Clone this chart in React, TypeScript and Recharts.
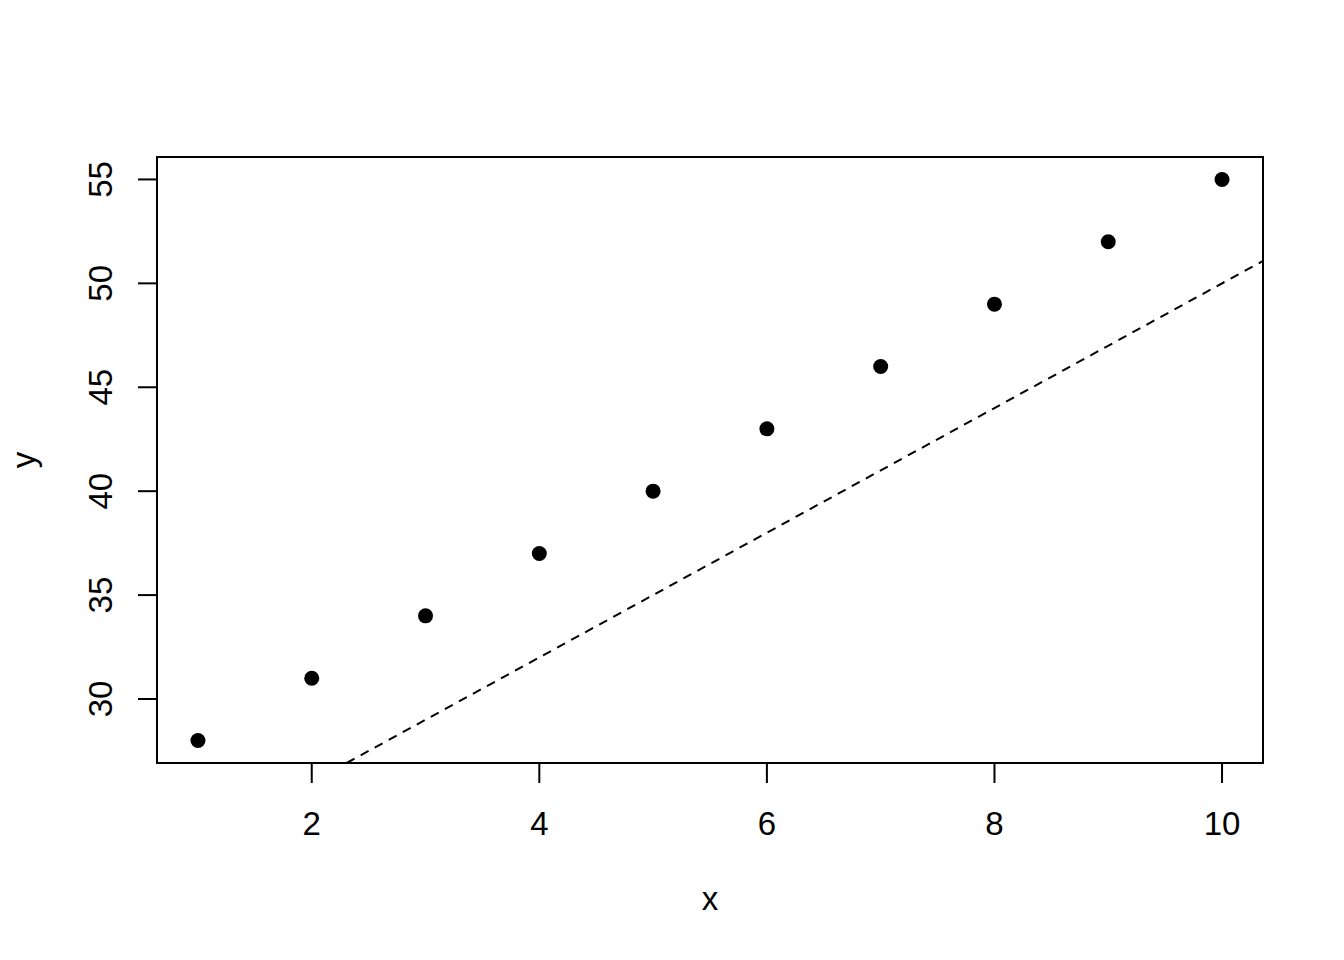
import {
  ComposedChart,
  ReferenceArea,
  ReferenceLine,
  Scatter,
  XAxis,
  YAxis,
} from 'recharts';

const xValues = [1, 2, 3, 4, 5, 6, 7, 8, 9, 10];
const yValues = [28, 31, 34, 37, 40, 43, 46, 49, 52, 55];

const xTicks = [2, 4, 6, 8, 10];
const yTicks = [30, 35, 40, 45, 50, 55];

// abline(a = 20, b = 3, lty = 2)
const lineIntercept = 20;
const lineSlope = 3;

// R pads the data range by 4% on each side
const pad = (lo: number, hi: number): [number, number] => {
  const d = (hi - lo) * 0.04;
  return [lo - d, hi + d];
};
const xDomain = pad(Math.min(...xValues), Math.max(...xValues));
const yDomain = pad(Math.min(...yValues), Math.max(...yValues));

const points = xValues.map((x, i) => ({ x, y: yValues[i] }));

// clip the abline to the plot region
const lineAt = (x: number) => lineIntercept + lineSlope * x;
const xStart = Math.max(xDomain[0], (yDomain[0] - lineIntercept) / lineSlope);
const xEnd = Math.min(xDomain[1], (yDomain[1] - lineIntercept) / lineSlope);
const segment = [
  { x: xStart, y: lineAt(xStart) },
  { x: xEnd, y: lineAt(xEnd) },
];

const FONT = 'Arial, "Liberation Sans", sans-serif';
const FS = 33;

const XTick = ({ x, y, payload }: any) => (
  <text x={x} y={y + 52} textAnchor="middle" fontFamily={FONT} fontSize={FS} fill="#000">
    {payload.value}
  </text>
);

const YTick = ({ x, y, payload }: any) => (
  <text
    x={x - 26}
    y={y}
    textAnchor="middle"
    transform={`rotate(-90, ${x - 26}, ${y})`}
    fontFamily={FONT}
    fontSize={FS}
    fill="#000"
  >
    {payload.value}
  </text>
);

const Dot = ({ cx, cy }: any) => <circle cx={cx} cy={cy} r={7.5} fill="#000" />;

export default function App() {
  return (
    <div style={{ position: 'absolute', left: 0, top: 0, background: '#fff' }}>
      <ComposedChart
        width={1344}
        height={960}
        data={points}
        margin={{ top: 157, right: 81, bottom: 0, left: 0 }}
      >
        <XAxis
          type="number"
          dataKey="x"
          domain={xDomain}
          ticks={xTicks}
          allowDataOverflow
          height={197}
          axisLine={false}
          tickSize={20}
          tickMargin={0}
          tickLine={{ stroke: '#000', strokeWidth: 2 }}
          tick={<XTick />}
          label={{
            content: ({ viewBox }: any) => (
              <text
                x={viewBox.x + viewBox.width / 2}
                y={viewBox.y + 147}
                textAnchor="middle"
                fontFamily={FONT}
                fontSize={FS}
                fill="#000"
              >
                x
              </text>
            ),
          }}
        />
        <YAxis
          type="number"
          dataKey="y"
          domain={yDomain}
          ticks={yTicks}
          allowDataOverflow
          width={157}
          axisLine={false}
          tickSize={19}
          tickMargin={0}
          tickLine={{ stroke: '#000', strokeWidth: 2 }}
          tick={<YTick />}
          label={{
            content: ({ viewBox }: any) => {
              const cy = viewBox.y + viewBox.height / 2;
              return (
                <text
                  x={35}
                  y={cy}
                  textAnchor="middle"
                  transform={`rotate(-90, 35, ${cy})`}
                  fontFamily={FONT}
                  fontSize={FS}
                  fill="#000"
                >
                  y
                </text>
              );
            },
          }}
        />
        <ReferenceArea
          x1={xDomain[0]}
          x2={xDomain[1]}
          y1={yDomain[0]}
          y2={yDomain[1]}
          fill="none"
          fillOpacity={0}
          stroke="#000"
          strokeWidth={2}
          ifOverflow="visible"
        />
        <ReferenceLine
          segment={segment}
          stroke="#000"
          strokeWidth={2}
          strokeDasharray="9 7"
          ifOverflow="visible"
        />
        <Scatter dataKey="y" fill="#000" shape={<Dot />} isAnimationActive={false} />
      </ComposedChart>
    </div>
  );
}
